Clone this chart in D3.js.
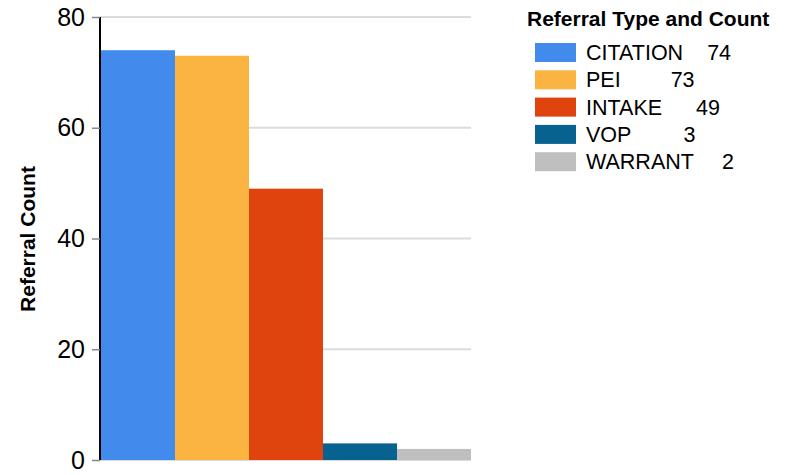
<!DOCTYPE html>
<html><head><meta charset="utf-8">
<script src="https://cdn.jsdelivr.net/npm/d3@7"></script>
<style>body{margin:0;background:#fff;}svg{display:block;font-family:"Liberation Sans",Arial,sans-serif;}</style>
</head><body><div id="chart"></div>
<script>
const categories = ["CITATION","PEI","INTAKE","VOP","WARRANT"];
const values = [74,73,49,3,2];
const colors = ["#428bed","#fbb442","#e0440e","#07628f","#bfbfbf"];
const yTicks = [0,20,40,60,80];
const legendTitle = "Referral Type and Count";
const yTitle = "Referral Count";
const legendGaps = [24,50,34,52,28];

const W=786,H=475;
const svg=d3.select("#chart").append("svg").attr("width",W).attr("height",H);
const m={left:100,right:471,top:17,bottom:460};
const x=d3.scaleBand().domain(categories).range([m.left+1,m.right]).padding(0);
const y=d3.scaleLinear().domain([0,80]).range([m.bottom,m.top]);

// gridlines
svg.append("g").selectAll("line").data(yTicks).join("line")
 .attr("x1",m.left).attr("x2",m.right).attr("y1",d=>y(d)).attr("y2",d=>y(d))
 .attr("stroke","#dcdcdc").attr("stroke-width",2);

// bars
svg.append("g").selectAll("rect").data(values).join("rect")
 .attr("x",(d,i)=>x(categories[i])).attr("width",x.bandwidth())
 .attr("y",d=>y(d)).attr("height",d=>y(0)-y(d))
 .attr("fill",(d,i)=>colors[i]);

// y axis
const ya=svg.append("g").attr("transform",`translate(${m.left},0)`)
 .call(d3.axisLeft(y).tickValues(yTicks).tickSize(8).tickPadding(7));
ya.select(".domain").attr("stroke","#000").attr("stroke-width",2).attr("d",`M0,${m.top}V${m.bottom}`);
ya.selectAll(".tick line").attr("stroke","#888").attr("stroke-width",1.5);
ya.selectAll(".tick text").attr("font-size",25).attr("fill","#000").attr("font-family","Liberation Sans, Arial, sans-serif");

svg.append("text").attr("transform",`translate(34.5,239) rotate(-90)`)
 .attr("text-anchor","middle").attr("font-weight","bold").attr("font-size",21).text(yTitle);

// legend
const lg=svg.append("g");
lg.append("text").attr("x",527).attr("y",26).attr("font-weight","bold").attr("font-size",21).text(legendTitle);
const it=lg.selectAll("g.it").data(categories).join("g").attr("class","it")
 .attr("transform",(d,i)=>`translate(535,${43+i*27.3})`);
it.append("rect").attr("width",41).attr("height",19).attr("fill",(d,i)=>colors[i]);
const t=it.append("text").attr("x",51).attr("y",17).attr("font-size",21.5);
t.append("tspan").text(d=>d);
t.append("tspan").attr("dx",(d,i)=>legendGaps[i]).text((d,i)=>values[i]);
</script></body></html>
